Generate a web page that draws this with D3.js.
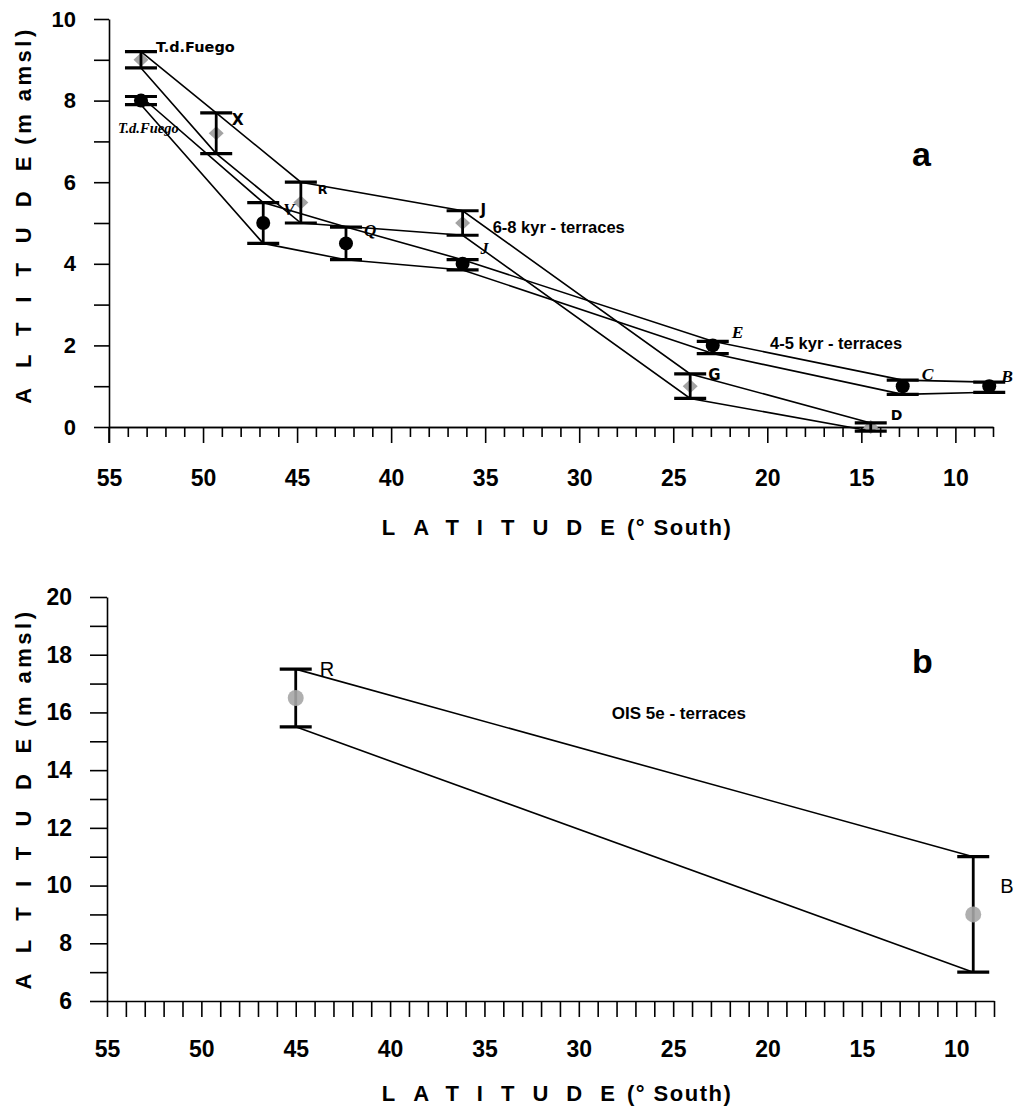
<!DOCTYPE html>
<html>
<head>
<meta charset="utf-8">
<script src="https://cdn.jsdelivr.net/npm/d3@7"></script>
<style>
  body { margin: 0; background: #fff; }
  svg { display: block; background: #fff; }
</style>
</head>
<body>
<svg id="chart" width="1015" height="1116"></svg>
<script>
// ---- Holocene terraces, 6-8 kyr (grey diamonds) ----
const holo68Sites = ["T.d.Fuego", "X", "R", "J", "G", "D"];
const holo68Lat   = [53.3, 49.3, 44.8, 36.2, 24.1, 14.5];
const holo68Alt   = [9.0, 7.2, 5.5, 5.0, 1.0, 0.0];
const holo68Hi    = [9.2, 7.7, 6.0, 5.3, 1.3, 0.1];
const holo68Lo    = [8.8, 6.7, 5.0, 4.7, 0.7, -0.1];

// ---- Holocene terraces, 4-5 kyr (black circles) ----
const holo45Sites = ["T.d.Fuego", "V", "Q", "J", "E", "C", "B"];
const holo45Lat   = [53.3, 46.8, 42.4, 36.2, 22.9, 12.8, 8.2];
const holo45Alt   = [8.0, 5.0, 4.5, 4.0, 2.0, 1.0, 1.0];
const holo45Hi    = [8.1, 5.5, 4.9, 4.1, 2.1, 1.15, 1.1];
const holo45Lo    = [7.9, 4.5, 4.1, 3.85, 1.8, 0.8, 0.85];

// ---- OIS 5e terraces (grey circles) ----
const ois5eSites = ["R", "B"];
const ois5eLat   = [45.0, 9.1];
const ois5eAlt   = [16.5, 9.0];
const ois5eHi    = [17.5, 11.0];
const ois5eLo    = [15.5, 7.0];

// ---- tick labels ----
const latTickLabels = [55, 50, 45, 40, 35, 30, 25, 20, 15, 10];
const altTickLabelsA = [0, 2, 4, 6, 8, 10];
const altTickLabelsB = [6, 8, 10, 12, 14, 16, 18, 20];

// ---- site label placement (pixel offsets from the marker) ----
const holo68LabelPos = [[15, -8], [15.5, -8], [17, -9], [18, -8], [18, -6], [20, -7]];
const holo45LabelPos = [[-23, 32], [20, -8], [18, -7], [18, -10], [19, -7], [19, -6], [12, -4]];
const ois5eLabelPos  = [[24, -22], [27, -21]];

const SANS = "'Liberation Sans', Arial, Helvetica, sans-serif";
const WIDE = "'DejaVu Sans', Verdana, sans-serif";
const SERIF = "'Liberation Serif', 'Times New Roman', serif";

const zip = (sites, lat, alt, hi, lo) =>
  sites.map((s, i) => ({ site: s, lat: lat[i], alt: alt[i], hi: hi[i], lo: lo[i] }));

const holo68 = zip(holo68Sites, holo68Lat, holo68Alt, holo68Hi, holo68Lo);
const holo45 = zip(holo45Sites, holo45Lat, holo45Alt, holo45Hi, holo45Lo);
const ois5e  = zip(ois5eSites, ois5eLat, ois5eAlt, ois5eHi, ois5eLo);

const svg = d3.select("#chart");

// ---- scales ----
const xA = d3.scaleLinear().domain([55, 8]).range([109, 993]);
const yA = d3.scaleLinear().domain([0, 10]).range([427, 19]);
const xB = d3.scaleLinear().domain([55, 8]).range([107, 994]);
const yB = d3.scaleLinear().domain([6, 20]).range([1001, 597]);

const intRange = (a, b) => d3.range(a, b + 1);

function styleAxis(g, fontSize) {
  g.select(".domain").attr("stroke", "#000").attr("stroke-width", 1.6);
  g.selectAll(".tick line").attr("stroke", "#000").attr("stroke-width", 1.6);
  g.selectAll(".tick text")
    .attr("fill", "#000")
    .style("font-family", SANS)
    .style("font-weight", "bold")
    .style("font-size", fontSize + "px");
}

// ================= panel a =================
const pa = svg.append("g");

// x axis: minor ticks every degree, major every 5 degrees with labels
pa.append("g")
  .attr("transform", `translate(0,${yA(0)})`)
  .call(d3.axisBottom(xA)
    .tickValues(intRange(8, 55).filter(v => v % 5 !== 0))
    .tickSize(10).tickSizeOuter(0).tickFormat(""))
  .call(g => styleAxis(g, 23));

pa.append("g")
  .attr("transform", `translate(0,${yA(0)})`)
  .call(d3.axisBottom(xA)
    .tickValues(latTickLabels)
    .tickSize(16).tickSizeOuter(0).tickPadding(27)
    .tickFormat(d3.format("d")))
  .call(g => styleAxis(g, 23));

// y axis extends below the x axis to the 55° tick
pa.append("line")
  .attr("x1", xA(55)).attr("x2", xA(55))
  .attr("y1", yA(0)).attr("y2", yA(0) + 16)
  .attr("stroke", "#000").attr("stroke-width", 1.6);

pa.append("g")
  .attr("transform", `translate(${xA(55)},0)`)
  .call(d3.axisLeft(yA)
    .tickValues(intRange(0, 10))
    .tickSize(15).tickSizeOuter(0).tickPadding(18)
    .tickFormat(d => altTickLabelsA.includes(d) ? d : ""))
  .call(g => styleAxis(g, 22));

// ================= panel b =================
const pb = svg.append("g");

pb.append("g")
  .attr("transform", `translate(0,${yB(6)})`)
  .call(d3.axisBottom(xB)
    .tickValues(intRange(8, 55))
    .tickSize(16).tickSizeOuter(0).tickPadding(24)
    .tickFormat(d => latTickLabels.includes(d) ? d : ""))
  .call(g => styleAxis(g, 23));

pb.append("g")
  .attr("transform", `translate(${xB(55)},0)`)
  .call(d3.axisLeft(yB)
    .tickValues(intRange(6, 20))
    .tickSize(17).tickSizeOuter(0).tickPadding(18)
    .tickFormat(d => altTickLabelsB.includes(d) ? d : ""))
  .call(g => styleAxis(g, 23));

// ---- axis titles: widely spaced word followed by the unit ----
function title(g, transform, word, wordSpacing, unit, unitSpacing) {
  const t = g.append("text")
    .attr("transform", transform)
    .attr("text-anchor", "middle")
    .style("font-family", SANS).style("font-weight", "bold").style("font-size", "22px");
  t.append("tspan").attr("letter-spacing", wordSpacing).text(word);
  t.append("tspan").attr("letter-spacing", unitSpacing).attr("dx", -wordSpacing + 12).text(unit);
}
title(pa, "translate(557,535)", "LATITUDE", 18, "(° South)", 1.5);
title(pa, "translate(31,215) rotate(-90)", "ALTITUDE", 20, "(m amsl)", 3.5);
title(pb, "translate(557,1101)", "LATITUDE", 18, "(° South)", 1.5);
title(pb, "translate(31,799) rotate(-90)", "ALTITUDE", 20.5, "(m amsl)", 3.5);

// ---- series drawing ----
const diamond = "M0,-7 L7.5,0 L0,7 L-7.5,0 Z";

function envelope(g, rows, x, y) {
  const top = d3.line().x(d => x(d.lat)).y(d => y(d.hi));
  const bot = d3.line().x(d => x(d.lat)).y(d => y(d.lo));
  [top, bot].forEach(gen =>
    g.append("path")
      .attr("d", gen(rows))
      .attr("fill", "none")
      .attr("stroke", "#000")
      .attr("stroke-width", 1.6));
}

function errorBars(g, rows, x, y, cap) {
  const eb = g.append("g").attr("stroke", "#000");
  rows.forEach(d => {
    eb.append("line")
      .attr("x1", x(d.lat)).attr("x2", x(d.lat))
      .attr("y1", y(d.hi)).attr("y2", y(d.lo))
      .attr("stroke-width", 2.8);
    [d.hi, d.lo].forEach(v =>
      eb.append("line")
        .attr("x1", x(d.lat) - cap / 2).attr("x2", x(d.lat) + cap / 2)
        .attr("y1", y(v)).attr("y2", y(v))
        .attr("stroke-width", 3.2));
  });
}

function siteLabels(g, rows, pos, x, y, style) {
  g.selectAll(null).data(rows).join("text")
    .attr("x", (d, i) => x(d.lat) + pos[i][0])
    .attr("y", (d, i) => y(d.alt) + pos[i][1])
    .style("font-family", style.family)
    .style("font-weight", style.weight)
    .style("font-style", style.italic ? "italic" : "normal")
    .style("font-size", (d, i) => (style.sizes ? style.sizes[i] : style.size) + "px")
    .text(d => d.site);
}

// panel a: envelopes first, then markers and error bars
const la = pa.append("g");
envelope(la, holo68, xA, yA);
envelope(la, holo45, xA, yA);

la.selectAll(null).data(holo68).join("path")
  .attr("d", diamond)
  .attr("transform", d => `translate(${xA(d.lat)},${yA(d.alt)})`)
  .attr("fill", "#a3a3a3");
errorBars(la, holo68, xA, yA, 32);

errorBars(la, holo45, xA, yA, 32);
la.selectAll(null).data(holo45).join("circle")
  .attr("cx", d => xA(d.lat)).attr("cy", d => yA(d.alt))
  .attr("r", 7).attr("fill", "#000");

siteLabels(pa, holo68, holo68LabelPos, xA, yA,
  { family: WIDE, weight: "bold", sizes: [14.5, 15.5, 12.5, 15, 15, 14] });
siteLabels(pa, holo45, holo45LabelPos, xA, yA,
  { family: SERIF, weight: "bold", italic: true, sizes: [14.5, 17, 17, 16, 17.5, 17.5, 17.5] });

// series captions and panel letter
const annA = [
  { text: "6-8 kyr - terraces", lat: 34.6, alt: 4.75, size: 16.5, anchor: "start" },
  { text: "4-5 kyr - terraces", lat: 19.85, alt: 1.91, size: 16.5, anchor: "start" },
  { text: "a", lat: 11.8, alt: 6.4, size: 34, anchor: "middle" }
];
annA.forEach(a =>
  pa.append("text")
    .attr("x", xA(a.lat)).attr("y", yA(a.alt))
    .attr("text-anchor", a.anchor)
    .style("font-family", SANS).style("font-weight", "bold")
    .style("font-size", a.size + "px")
    .text(a.text));

// panel b
const lb = pb.append("g");
envelope(lb, ois5e, xB, yB);
errorBars(lb, ois5e, xB, yB, 32);
lb.selectAll(null).data(ois5e).join("circle")
  .attr("cx", d => xB(d.lat)).attr("cy", d => yB(d.alt))
  .attr("r", 8).attr("fill", "#a6a6a6").attr("fill-opacity", 0.9);

siteLabels(pb, ois5e, ois5eLabelPos, xB, yB,
  { family: SANS, weight: "normal", size: 20 });

const annB = [
  { text: "OIS 5e - terraces", lat: 28.25, alt: 15.76, size: 17, anchor: "start" },
  { text: "b", lat: 11.8, alt: 17.35, size: 34, anchor: "middle" }
];
annB.forEach(a =>
  pb.append("text")
    .attr("x", xB(a.lat)).attr("y", yB(a.alt))
    .attr("text-anchor", a.anchor)
    .style("font-family", SANS).style("font-weight", "bold")
    .style("font-size", a.size + "px")
    .text(a.text));
</script>
</body>
</html>
